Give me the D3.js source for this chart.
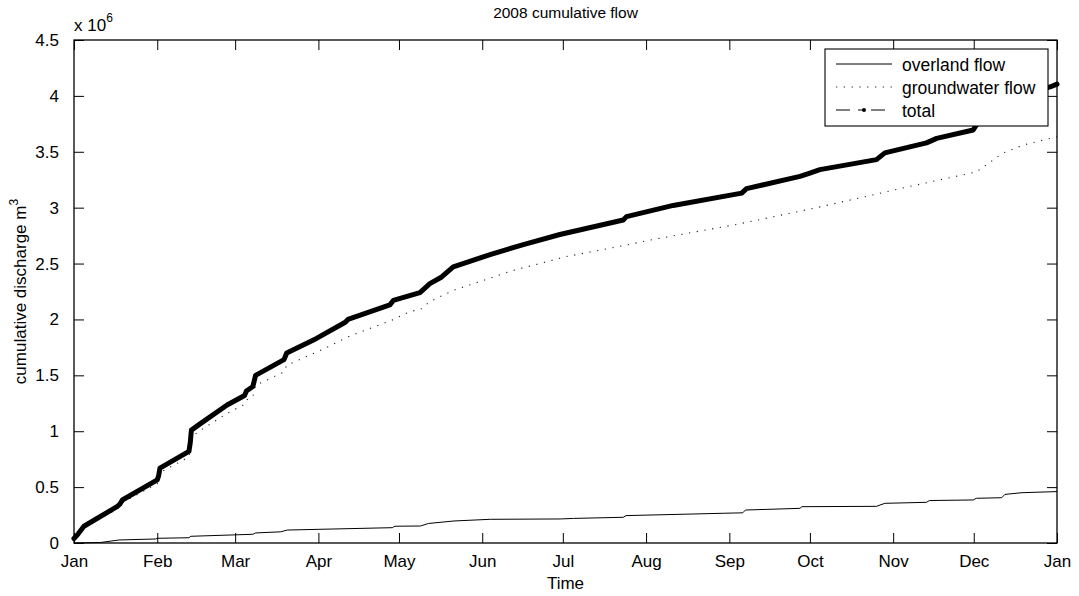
<!DOCTYPE html>
<html>
<head>
<meta charset="utf-8">
<script src="https://cdn.jsdelivr.net/npm/d3@7"></script>
<style>
  html, body { margin: 0; padding: 0; background: #fff; }
  svg text { font-family: "Liberation Sans", Arial, Helvetica, sans-serif; fill: #000; }
</style>
</head>
<body>
<svg id="chart" width="1079" height="596"></svg>
<script>
// Cumulative discharge through 2008, in units of 1e6 m^3.
// Each series is a list of [day of year, value] pairs.
const overlandFlow = [
  [0, 0.0], [10, 0.005], [16.8, 0.027], [30.4, 0.036], [31, 0.042], [42.8, 0.047],
  [43.5, 0.06], [66.6, 0.078], [67.6, 0.09], [77, 0.10], [79.4, 0.116], [118.5, 0.137],
  [119.5, 0.15], [129, 0.152], [132, 0.175], [141.5, 0.197], [155, 0.212], [181, 0.215],
  [186, 0.22], [204.5, 0.23], [205.5, 0.245], [241.7, 0.266], [249, 0.27], [250, 0.295],
  [270.3, 0.31], [271, 0.325], [298.8, 0.328], [301.9, 0.355], [317.4, 0.364],
  [318.5, 0.38], [334.8, 0.385], [336, 0.40], [345.4, 0.405], [346.6, 0.435],
  [353, 0.45], [366, 0.46]
];

const groundwaterFlow = [
  [0, 0.03], [3.7, 0.14], [16, 0.30], [18, 0.36], [31, 0.53], [32, 0.63], [42.8, 0.77],
  [43.7, 0.95], [47.2, 1.01], [57, 1.16], [63.5, 1.24], [64.2, 1.28], [66.6, 1.31],
  [67.6, 1.41], [78.2, 1.53], [79.2, 1.59], [92.4, 1.73], [102.1, 1.845], [119, 2.0],
  [125, 2.07], [129, 2.09], [132.5, 2.16], [141.2, 2.26], [155, 2.37], [162.3, 2.43],
  [182.8, 2.56], [204.5, 2.66], [214.4, 2.71], [246.7, 2.85], [276.5, 3.00],
  [311.2, 3.19], [336, 3.32], [346, 3.49], [353.4, 3.56], [366, 3.635]
];

const totalFlow = [
  [0, 0.04], [1.5, 0.08], [3.7, 0.15], [16, 0.325], [17, 0.345], [18, 0.385],
  [31, 0.565], [31.5, 0.60], [32, 0.67], [42.8, 0.82], [43.3, 0.90], [43.7, 1.01],
  [47.2, 1.07], [57, 1.235], [63.5, 1.32], [64.2, 1.36], [66.6, 1.40], [67.6, 1.50],
  [78.2, 1.64], [79.2, 1.70], [90.3, 1.83], [101, 1.975], [102, 2.0], [117.6, 2.13],
  [118.9, 2.17], [128.8, 2.24], [132.5, 2.32], [136.9, 2.38], [141.2, 2.47],
  [154.9, 2.58], [167.3, 2.67], [180.9, 2.76], [204.5, 2.89], [205.7, 2.92],
  [223.1, 3.02], [248.6, 3.13], [250.4, 3.17], [270.3, 3.28], [274, 3.31],
  [277.7, 3.34], [298.8, 3.43], [301.9, 3.49], [317.4, 3.58], [321.2, 3.62],
  [334.8, 3.695], [336, 3.74], [346, 3.925], [353.4, 4.01], [363.4, 4.08], [366, 4.105]
];

const yTicks = [0, 0.5, 1, 1.5, 2, 2.5, 3, 3.5, 4, 4.5];
const legendLabels = ["overland flow", "groundwater flow", "total"];
const titleText = "2008 cumulative flow";
const xLabelText = "Time";
const yLabelText = "cumulative discharge m";

const svg = d3.select("#chart");
const margin = { left: 74, top: 40, right: 1057, bottom: 543 };

const start = new Date(Date.UTC(2008, 0, 1));
const end = new Date(Date.UTC(2009, 0, 1));
const toDate = d => new Date(start.getTime() + d * 86400000);

const x = d3.scaleUtc().domain([start, end]).range([margin.left, margin.right]);
const y = d3.scaleLinear().domain([0, 4.5]).range([margin.bottom, margin.top]);

const monthTicks = d3.utcMonth.range(start, d3.utcDay.offset(end, 1));
const tickLen = 10;
const fontSize = 17;

// Curves
const line = d3.line().x(d => x(toDate(d[0]))).y(d => y(d[1]));

svg.append("path").datum(overlandFlow)
  .attr("d", line).attr("fill", "none")
  .attr("stroke", "#000").attr("stroke-width", 1);

svg.append("path").datum(groundwaterFlow)
  .attr("d", line).attr("fill", "none")
  .attr("stroke", "#222").attr("stroke-width", 1.1)
  .attr("stroke-dasharray", "1.2,6.6");

svg.append("path").datum(totalFlow)
  .attr("d", line).attr("fill", "none")
  .attr("stroke", "#000").attr("stroke-width", 5)
  .attr("stroke-linejoin", "round").attr("stroke-linecap", "round");

// Axes (inward ticks on all four sides, MATLAB-style box)
const fmtMonth = d3.utcFormat("%b");
const xAxisBottom = d3.axisBottom(x).tickValues(monthTicks).tickFormat(fmtMonth)
  .tickSizeInner(-tickLen).tickSizeOuter(0).tickPadding(tickLen + 2);
const xAxisTop = d3.axisTop(x).tickValues(monthTicks).tickFormat("")
  .tickSizeInner(-tickLen).tickSizeOuter(0);
const yAxisLeft = d3.axisLeft(y).tickValues(yTicks).tickFormat(d3.format("~g"))
  .tickSizeInner(-tickLen).tickSizeOuter(0).tickPadding(tickLen + 5);
const yAxisRight = d3.axisRight(y).tickValues(yTicks).tickFormat("")
  .tickSizeInner(-tickLen).tickSizeOuter(0);

function styleAxis(g) {
  g.select(".domain").remove();
  g.selectAll(".tick line").attr("stroke", "#000").attr("stroke-width", 1);
  g.selectAll("text").attr("font-size", fontSize)
    .style("font-family", '"Liberation Sans", Arial, Helvetica, sans-serif');
}

svg.append("g").attr("transform", `translate(0,${margin.bottom})`).call(xAxisBottom).call(styleAxis);
svg.append("g").attr("transform", `translate(0,${margin.top})`).call(xAxisTop).call(styleAxis);
svg.append("g").attr("transform", `translate(${margin.left},0)`).call(yAxisLeft).call(styleAxis);
svg.append("g").attr("transform", `translate(${margin.right},0)`).call(yAxisRight).call(styleAxis);

svg.append("rect")
  .attr("x", margin.left).attr("y", margin.top)
  .attr("width", margin.right - margin.left).attr("height", margin.bottom - margin.top)
  .attr("fill", "none").attr("stroke", "#000").attr("stroke-width", 1.3);

// Exponent label
const expo = svg.append("text").attr("x", margin.left).attr("y", 31).attr("font-size", fontSize);
expo.append("tspan").text("x 10");
expo.append("tspan").attr("dy", -9).attr("font-size", 12).text("6");

// Title and axis labels
svg.append("text").attr("x", (margin.left + margin.right) / 2).attr("y", 18)
  .attr("text-anchor", "middle").attr("font-size", 15.5).text(titleText);

svg.append("text").attr("x", (margin.left + margin.right) / 2).attr("y", 589)
  .attr("text-anchor", "middle").attr("font-size", fontSize).text(xLabelText);

const yl = svg.append("text")
  .attr("transform", `translate(26,${(margin.top + margin.bottom) / 2}) rotate(-90)`)
  .attr("text-anchor", "middle").attr("font-size", fontSize);
yl.append("tspan").text(yLabelText);
yl.append("tspan").attr("dy", -8).attr("font-size", 12).text("3");

// Legend
const lg = { x: 825, y: 49, w: 223, h: 77 };
const legend = svg.append("g");
legend.append("rect").attr("x", lg.x).attr("y", lg.y).attr("width", lg.w).attr("height", lg.h)
  .attr("fill", "#fff").attr("stroke", "#000").attr("stroke-width", 1.1);

const rowY = [64, 87, 110];
const sx0 = 836, sx1 = 892, textX = 902;

legend.append("line").attr("x1", sx0).attr("x2", sx1).attr("y1", rowY[0]).attr("y2", rowY[0])
  .attr("stroke", "#000").attr("stroke-width", 1);
legend.append("line").attr("x1", sx0).attr("x2", sx1).attr("y1", rowY[1]).attr("y2", rowY[1])
  .attr("stroke", "#222").attr("stroke-width", 1.1).attr("stroke-dasharray", "1.2,6.6");
legend.append("line").attr("x1", sx0).attr("x2", sx1).attr("y1", rowY[2]).attr("y2", rowY[2])
  .attr("stroke", "#000").attr("stroke-width", 1).attr("stroke-dasharray", "14,8,5,8,14");
legend.append("circle").attr("cx", (sx0 + sx1) / 2).attr("cy", rowY[2]).attr("r", 2).attr("fill", "#000");

legendLabels.forEach((t, i) => {
  legend.append("text").attr("x", textX).attr("y", rowY[i] + 6.5)
    .attr("font-size", fontSize + 0.5).text(t);
});
</script>
</body>
</html>
